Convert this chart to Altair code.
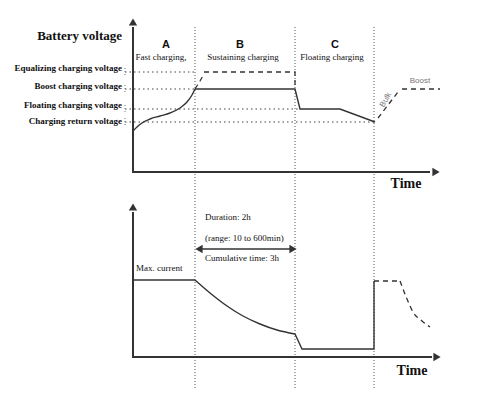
import altair as alt
import pandas as pd

# ---------- schematic data (time units on x, level units on y; y grows downward) ----------
# voltage panel
volt_axis_x = [133, 133, 430]
volt_axis_y = [27, 172, 172]
# bulk charging curve A (solid) and its dashed continuation
curve_a_x = [133, 137, 142, 150, 160, 170, 180, 187, 192, 195]
curve_a_y = [131, 127, 123, 119, 116, 113, 108, 102, 95, 89]
curve_a_dash_x = [195, 200, 204]
curve_a_dash_y = [89, 81, 74]
# sustaining (boost) + drop to floating + floating decline
sustain_x = [195, 295, 300, 340, 375]
sustain_y = [89, 89, 109, 109, 122]
equalize_dash_x = [204, 295, 295]
equalize_dash_y = [72, 72, 89]
bulk_dash_x = [378, 398]
bulk_dash_y = [118, 92]
boost_dash_x = [402, 440]
boost_dash_y = [89, 89]
# reference voltage levels
level_names = ["Equalizing charging voltage", "Boost charging voltage",
               "Floating charging voltage", "Charging return voltage"]
level_y = [72, 89, 109, 122]
level_end_x = [196, 196, 300, 375]
level_label_y = [68, 86, 105, 121]
# phase boundaries
phase_x = [195, 295, 374]
phase_top = 27
phase_bottom = 390
phase_letters = ["A", "B", "C"]
phase_letter_x = [166, 240, 335]
phase_names = ["Fast charging,", "Sustaining charging", "Floating charging"]
phase_name_x = [161, 243, 332]

# current panel
curr_axis_x = [133, 133, 432]
curr_axis_y = [212, 357, 357]
current_flat_x = [133, 195]
current_flat_y = [280, 280]
current_decay_x = [195, 210, 227, 243, 260, 277, 295]
current_decay_y = [280, 293, 306, 316, 324, 330, 334]
current_float_x = [295, 302, 374, 374]
current_float_y = [334, 349, 349, 281]
current_dash_flat_x = [374, 400]
current_dash_flat_y = [281, 281]
current_dash_decay_x = [400, 407, 413, 422, 430]
current_dash_decay_y = [281, 299, 312, 321, 327]
duration_arrow_x = [200, 292]
duration_arrow_y = [249, 249]

# ---------- build tables ----------
def seg_rows(name, xs, ys):
    return [{"seg": name, "i": k, "x": a, "y": b} for k, (a, b) in enumerate(zip(xs, ys))]

axes_rows = seg_rows("vax", volt_axis_x, volt_axis_y) + seg_rows("cax", curr_axis_x, curr_axis_y)
solid_rows = (seg_rows("sus", sustain_x, sustain_y) + seg_rows("cf", current_flat_x, current_flat_y)
              + seg_rows("cfl", current_float_x, current_float_y)
              + seg_rows("dur", duration_arrow_x, duration_arrow_y))
smooth_rows = seg_rows("a", curve_a_x, curve_a_y) + seg_rows("cdk", current_decay_x, current_decay_y)
dash_rows = (seg_rows("ad", curve_a_dash_x, curve_a_dash_y) + seg_rows("eq", equalize_dash_x, equalize_dash_y)
             + seg_rows("bulk", bulk_dash_x, bulk_dash_y) + seg_rows("boost", boost_dash_x, boost_dash_y)
             + seg_rows("cd", current_dash_flat_x, current_dash_flat_y))
dash_smooth_rows = seg_rows("cdd", current_dash_decay_x, current_dash_decay_y)
hdot_rows = []
for n, yv, xe in zip(level_names, level_y, level_end_x):
    hdot_rows += seg_rows(n, [125, xe], [yv, yv])
tick_rows = []
for n, yv in zip(level_names, level_y):
    tick_rows += seg_rows("t" + n, [125, 125], [yv - 4, yv + 4])
vdot_rows = []
for k, xv in enumerate(phase_x):
    vdot_rows += seg_rows("p%d" % k, [xv, xv], [phase_top, phase_bottom])

arrow_df = pd.DataFrame({
    "x": [133, 436, 133, 437, 199, 293],
    "y": [22, 172, 207, 357, 249, 249],
    "shape": ["triangle-up", "triangle-right", "triangle-up", "triangle-right", "triangle-left", "triangle-right"],
})

X = alt.X("x:Q", scale=alt.Scale(domain=[8, 494], nice=False, zero=False), axis=None)
Y = alt.Y("y:Q", scale=alt.Scale(domain=[402, 8], nice=False, zero=False), axis=None)
INK = "#333333"

def lines(rows, **kw):
    return alt.Chart(pd.DataFrame(rows)).mark_line(**kw).encode(
        x=X, y=Y, detail="seg:N", order="i:Q")

layers = [
    lines(vdot_rows, color="#555555", strokeWidth=1, strokeDash=[1, 2]),
    lines(hdot_rows, color="#444444", strokeWidth=1.2, strokeDash=[1.5, 3]),
    lines(tick_rows, color="#777777", strokeWidth=1, strokeDash=[1, 2]),
    lines(axes_rows, color=INK, strokeWidth=2),
    lines(solid_rows, color=INK, strokeWidth=1.4),
    lines(smooth_rows, color=INK, strokeWidth=1.4, interpolate="monotone"),
    lines(dash_rows, color=INK, strokeWidth=1.3, strokeDash=[5, 4]),
    lines(dash_smooth_rows, color=INK, strokeWidth=1.3, strokeDash=[5, 4], interpolate="monotone"),
    alt.Chart(arrow_df).mark_point(filled=True, opacity=1, color=INK, size=70).encode(
        x=X, y=Y, shape=alt.Shape("shape:N", scale=None)),
]

def texts(labels, xs, ys, color="#111111", **kw):
    df = pd.DataFrame({"label": labels, "x": xs, "y": ys})
    return alt.Chart(df).mark_text(baseline="middle", color=color, **kw).encode(
        x=X, y=Y, text="label:N")

SERIF = "Liberation Serif"
SANS = "Liberation Sans"
layers += [
    texts(["Battery voltage"], [122], [36], align="right", font=SERIF, fontSize=13, fontWeight="bold"),
    texts(level_names, [122] * 4, level_label_y, align="right", font=SERIF, fontSize=9, fontWeight="bold"),
    texts(phase_letters, phase_letter_x, [45] * 3, align="center", font=SANS, fontSize=11, fontWeight="bold"),
    texts(phase_names, phase_name_x, [57] * 3, align="center", font=SERIF, fontSize=9),
    texts(["Boost"], [420], [81], align="center", font=SANS, fontSize=8, color="#777777"),
    texts(["Bulk"], [386], [100], align="center", font=SANS, fontSize=8, color="#777777", angle=300),
    texts(["Time", "Time"], [406, 412], [184, 371], align="center", font=SERIF, fontSize=14, fontWeight="bold"),
    texts(["Max. current"], [136], [268], align="left", font=SERIF, fontSize=9),
    texts(["Duration: 2h", "(range: 10 to 600min)", "Cumulative time: 3h"], [205] * 3, [217, 238, 258],
          align="left", font=SERIF, fontSize=9),
]

chart = alt.layer(*layers).properties(
    width=486, height=394,
    autosize=alt.AutoSizeParams(type="fit", contains="padding"),
    padding=0,
).configure_view(stroke=None)

chart.save("out.html", embed_options={"renderer": "svg", "actions": False})
